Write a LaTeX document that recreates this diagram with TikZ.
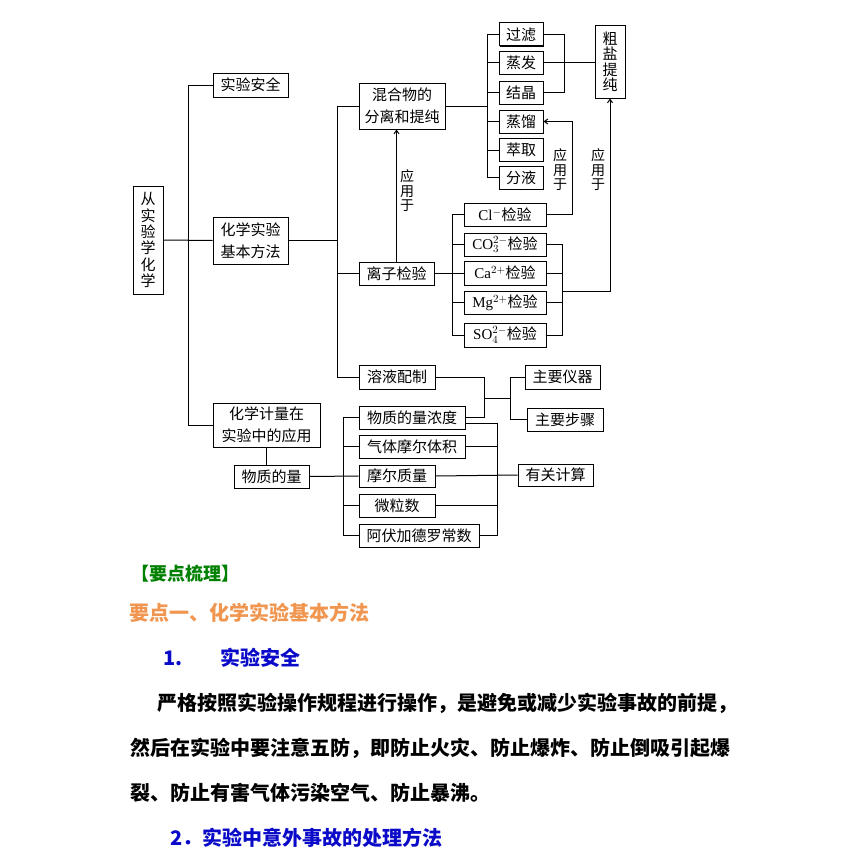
\documentclass[tikz,border=0pt]{standalone}
\usepackage{fontspec}
\setmainfont{Noto Sans CJK SC}
\newfontfamily\lat{Liberation Serif}
\usetikzlibrary{arrows.meta,shadows}
\definecolor{kgreen}{RGB}{0,128,0}
\definecolor{korange}{RGB}{240,150,80}
\definecolor{kblue}{RGB}{10,10,200}
\begin{document}
\begin{tikzpicture}[x=1pt,y=-1pt,
  box/.style={draw, line width=1pt, inner sep=0pt, align=center, fill=white,
    font=\fontsize{15}{22.5}\selectfont,
    drop shadow={shadow xshift=0.8pt, shadow yshift=-0.8pt, opacity=1, fill=black}},
  ln/.style={line width=1pt},
  arr/.style={ln, -{Straight Barb[length=3.5pt,width=5pt]}},
  vlab/.style={inner sep=0pt, align=center, font=\fontsize{14}{14.5}\selectfont},
  txt/.style={anchor=west, inner sep=0pt, font=\fontsize{20}{20}\selectfont\bfseries}]
\useasboundingbox (0,0) rectangle (857,867);

% ---- boxes ----
\node[box, minimum width=30pt, minimum height=108pt, font=\fontsize{15}{16.3}\selectfont] (root) at (148,240) {从\\实\\验\\学\\化\\学};
\node[box, minimum width=75pt, minimum height=24pt] (anquan) at (250.5,85) {实验安全};
\node[box, minimum width=75pt, minimum height=47pt] (jiben) at (250.5,240.5) {化学实验\\基本方法};
\node[box, minimum width=107pt, minimum height=44pt, font=\fontsize{15}{22}\selectfont] (jiliang) at (266.5,425) {化学计量在\\实验中的应用};
\node[box, minimum width=75pt, minimum height=23pt] (wzl) at (271.5,476.5) {物质的量};

\node[box, minimum width=86pt, minimum height=46pt] (hunhe) at (402,106) {混合物的\\分离和提纯};
\node[box, minimum width=75pt, minimum height=23pt] (lizi) at (396.5,273.5) {离子检验};
\node[box, minimum width=76pt, minimum height=24pt] (rongye) at (397,377) {溶液配制};
\node[box, minimum width=106pt, minimum height=23pt] (nongdu) at (412,417.5) {物质的量浓度};
\node[box, minimum width=106pt, minimum height=23pt] (qiti) at (412,446.5) {气体摩尔体积};
\node[box, minimum width=76pt, minimum height=22pt] (molar) at (397,476) {摩尔质量};
\node[box, minimum width=76pt, minimum height=23pt] (weili) at (397,505.5) {微粒数};
\node[box, minimum width=120pt, minimum height=23pt] (afu) at (419,535.5) {阿伏加德罗常数};
\node[box, minimum width=75pt, minimum height=22pt] (youguan) at (555.5,475) {有关计算};
\node[box, minimum width=75pt, minimum height=24pt] (yiqi) at (562.5,377) {主要仪器};
\node[box, minimum width=76pt, minimum height=23pt] (buzhou) at (565,419.5) {主要步骤};

\node[box, minimum width=44pt, minimum height=23pt] (guolv) at (521,34.5) {过滤};
\node[box, minimum width=44pt, minimum height=23pt] (zhengfa) at (521,63) {蒸发};
\node[box, minimum width=44pt, minimum height=23pt] (jiejing) at (521,92.5) {结晶};
\node[box, minimum width=44pt, minimum height=23pt] (zhengliu) at (521,121.5) {蒸馏};
\node[box, minimum width=44pt, minimum height=23pt] (cuiqu) at (521,150) {萃取};
\node[box, minimum width=44pt, minimum height=23pt] (fenye) at (521,177.5) {分液};
\node[box, minimum width=30pt, minimum height=72pt, font=\fontsize{15}{15.5}\selectfont] (cuyan) at (610,62) {粗\\盐\\提\\纯};

\node[box, minimum width=82pt, minimum height=23pt] (cl) at (505,214.5) {{\lat Cl}$^{-}$检验};
\node[box, minimum width=82pt, minimum height=23pt] (co3) at (505,244.5) {{\lat CO}$_3^{2-}$检验};
\node[box, minimum width=82pt, minimum height=24pt] (ca) at (505,273) {{\lat Ca}$^{2+}$检验};
\node[box, minimum width=82pt, minimum height=23pt] (mg) at (505,302.5) {{\lat Mg}$^{2+}$检验};
\node[box, minimum width=82pt, minimum height=24pt] (so4) at (505,335) {{\lat SO}$_4^{2-}$检验};

% ---- labels ----
\node[vlab] (yy1) at (407,191) {应\\用\\于};
\node[vlab] (yy2) at (560,170) {应\\用\\于};
\node[vlab] (yy3) at (598,170) {应\\用\\于};

% ---- connectors ----
\coordinate (v1) at (188,0);
\draw[ln] (anquan.west) -| (v1 |- jiliang.west) -- (jiliang.west);
\draw[ln] (root.east) -- (jiben.west);

\coordinate (v2) at (337,0);
\draw[ln] (hunhe.west) -| (v2 |- rongye.west) -- (rongye.west);
\draw[ln] (jiben.east) -- (v2 |- jiben.east);
\draw[ln] (lizi.west) -- (v2 |- lizi.west);
\draw[arr] (lizi.north) -- (lizi.north |- hunhe.south);

\coordinate (v3) at (487,0);
\draw[ln] (hunhe.east) -- (v3 |- hunhe.east);
\draw[ln] (guolv.west) -| (v3 |- fenye.west) -- (fenye.west);
\foreach \n in {zhengfa,jiejing,zhengliu,cuiqu} \draw[ln] (v3 |- \n.west) -- (\n.west);
\coordinate (v4) at (564,0);
\draw[ln] (guolv.east) -| (v4 |- jiejing.east) -- (jiejing.east);
\draw[ln] (zhengfa.east) -- (cuyan.west |- zhengfa.east);

\coordinate (v5) at (572,0);
\draw[arr] (cl.east) -| (v5 |- zhengliu.east) -- (zhengliu.east);

\coordinate (v6) at (452,0);
\draw[ln] (lizi.east) -- (v6 |- lizi.east);
\draw[ln] (cl.west) -| (v6 |- so4.west) -- (so4.west);
\foreach \n in {co3,ca,mg} \draw[ln] (v6 |- \n.west) -- (\n.west);
\coordinate (v7) at (562,0);
\draw[ln] (co3.east) -| (v7 |- so4.east) -- (so4.east);
\foreach \n in {ca,mg} \draw[ln] (v7 |- \n.east) -- (\n.east);
\coordinate (j1) at (562,291);
\draw[arr] (j1) -| (cuyan.south);

\coordinate (v8) at (484,0);
\draw[ln] (rongye.east) -| (v8 |- nongdu.east) -- (nongdu.east);
\coordinate (j2) at (484,398);
\coordinate (v9) at (510,0);
\draw[ln] (j2) -- (v9 |- j2);
\draw[ln] (yiqi.west) -| (v9 |- buzhou.west) -- (buzhou.west);

\draw[ln] (jiliang.south) -- (jiliang.south |- wzl.north);
\draw[ln] (wzl.east) -- (molar.west);
\coordinate (v10) at (343,0);
\draw[ln] (nongdu.west) -| (v10 |- afu.west) -- (afu.west);
\foreach \n in {qiti,weili} \draw[ln] (v10 |- \n.west) -- (\n.west);
\coordinate (v11) at (497,0);
\draw[ln] ([yshift=-5.5pt]nongdu.east) -| (v11 |- afu.east) -- (afu.east);
\foreach \n in {qiti,weili} \draw[ln] (v11 |- \n.east) -- (\n.east);
\draw[ln] (molar.east) -- (youguan.west);

% ---- text section ----
\node[txt, text=kgreen, font=\fontsize{18}{18}\selectfont\bfseries] (kp) at (131,574) {【要点梳理】};
\node[txt, text=korange] (yd) at (129,613) {要点一、化学实验基本方法};
\node[txt, text=kblue] (s1) at (163,658) {\makebox[57pt][l]{1.}实验安全};
\node[txt] (p1) at (157,703) {严格按照实验操作规程进行操作，是避免或减少实验事故的前提，};
\node[txt] (p2) at (130,748) {然后在实验中要注意五防，即防止火灾、防止爆炸、防止倒吸引起爆};
\node[txt] (p3) at (130,793) {裂、防止有害气体污染空气、防止暴沸。};
\node[txt, text=kblue] (s2) at (170,838) {2．实验中意外事故的处理方法};
\end{tikzpicture}
\end{document}
